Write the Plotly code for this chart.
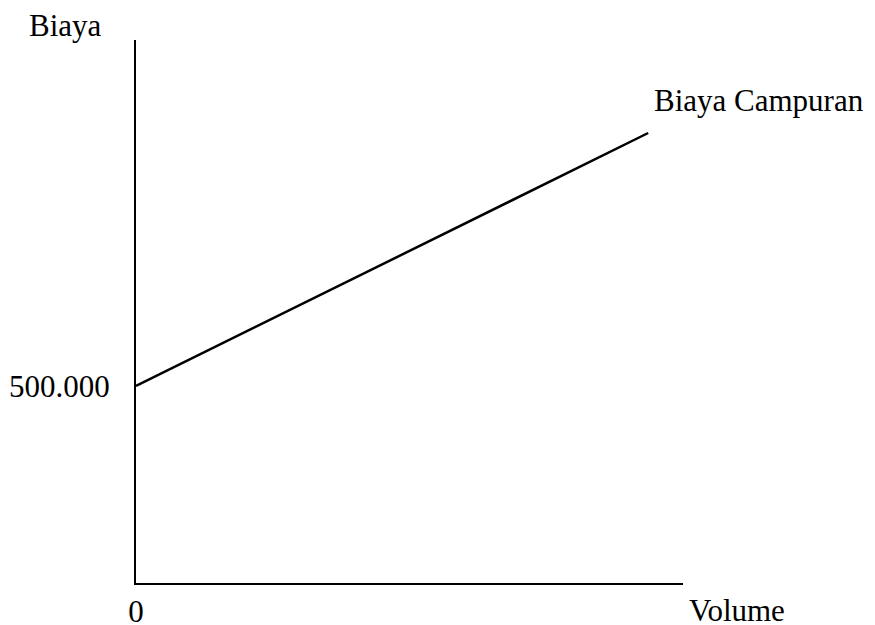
import plotly.graph_objects as go

# Data
volume = [0, 1000]
biaya_campuran = [500000, 1142000]
y_tick_vals = [500000]
y_tick_text = ["500.000"]
x_tick_vals = [0]
x_tick_text = ["0"]

FONT = dict(family="Liberation Serif, Times New Roman, serif", size=31, color="black")

fig = go.Figure()
fig.add_trace(go.Scatter(
    x=volume, y=biaya_campuran, mode="lines",
    line=dict(color="black", width=2.5), showlegend=False, hoverinfo="skip"))

fig.update_layout(
    width=875, height=625,
    margin=dict(l=136, r=192, t=40, b=42),
    paper_bgcolor="white", plot_bgcolor="white",
    font=FONT,
    xaxis=dict(range=[0, 1068], showline=True, linecolor="black", linewidth=2,
               showgrid=False, zeroline=False, ticks="", automargin=False,
               tickvals=x_tick_vals, ticktext=x_tick_text,
               tickfont=FONT, ticklabelstandoff=0),
    yaxis=dict(range=[0, 1378000], showline=True, linecolor="black", linewidth=2,
               showgrid=False, zeroline=False, ticks="", automargin=False,
               tickvals=y_tick_vals, ticktext=y_tick_text,
               tickfont=FONT, ticklabelstandoff=18),
    annotations=[
        dict(text="Biaya", xref="paper", yref="paper", x=-0.058, y=1.0, yshift=15,
             xanchor="right", yanchor="middle", showarrow=False, font=FONT),
        dict(text="Volume", xref="paper", yref="paper", x=1.0, y=0, xshift=4, yshift=-27,
             xanchor="left", yanchor="middle", showarrow=False, font=FONT),
        dict(text="Biaya Campuran", x=volume[-1], y=biaya_campuran[-1], xref="x", yref="y",
             xshift=4, yshift=33, xanchor="left", yanchor="middle",
             showarrow=False, font=FONT),
    ],
)

fig.write_html("out.html", config={"displayModeBar": False},
               post_script="document.body.style.margin='0';document.body.style.overflow='hidden';")
